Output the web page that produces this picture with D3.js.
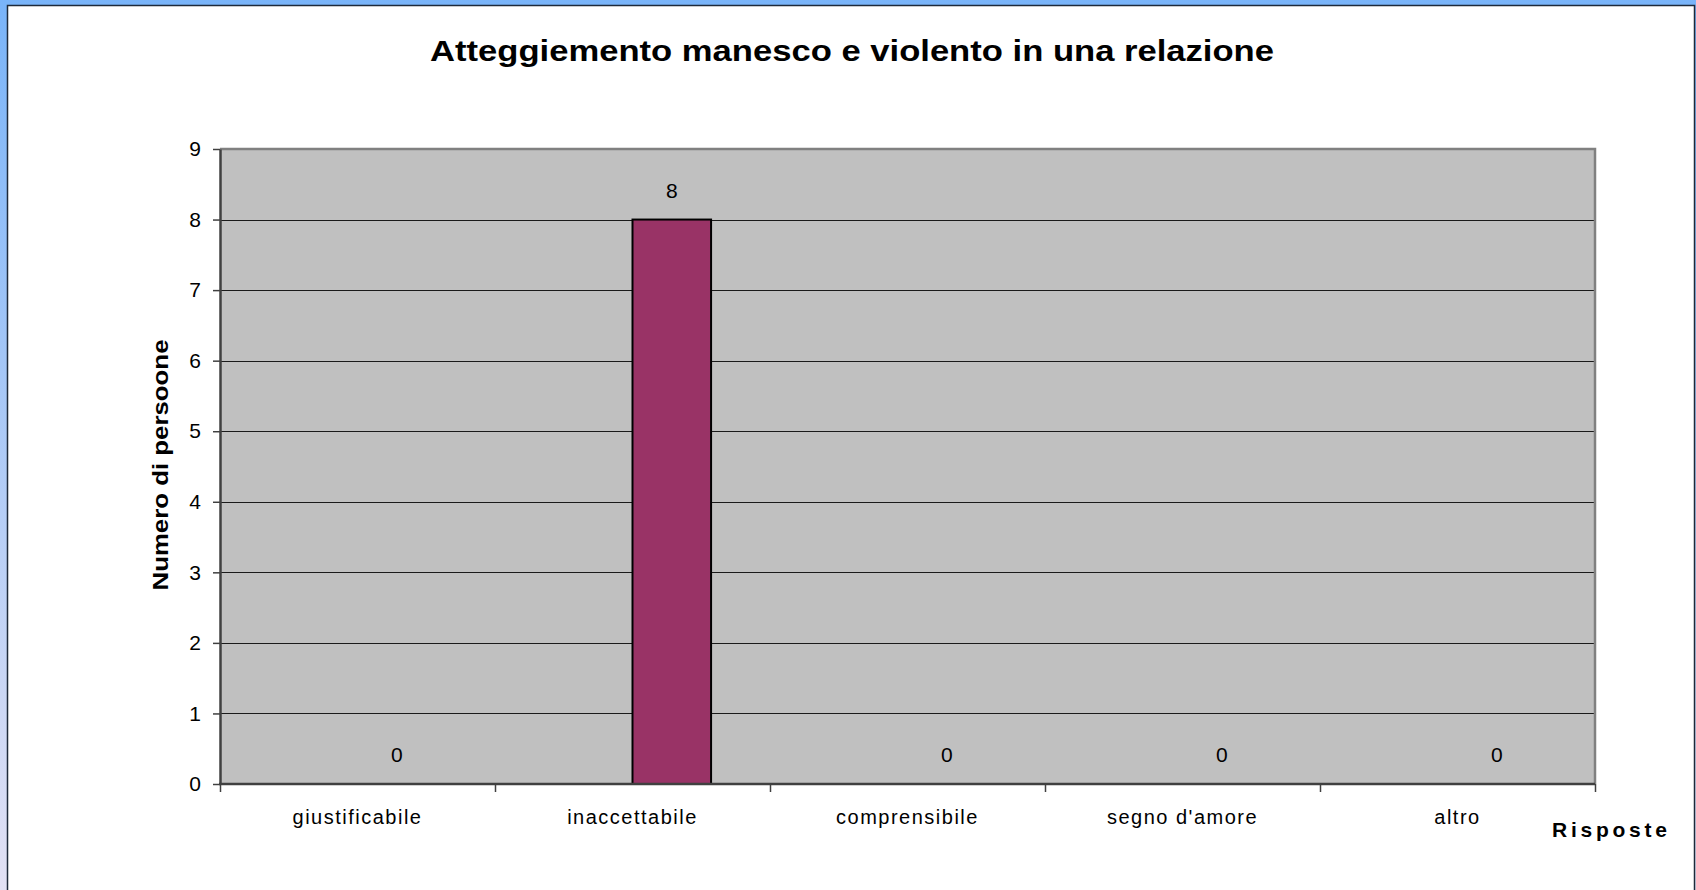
<!DOCTYPE html>
<html>
<head>
    <meta charset="UTF-8">
    <script src="https://cdn.jsdelivr.net/npm/d3@7"></script>
    <style>
        body { margin: 0; background: #fff; }
        svg { display: block; font-family: "Liberation Sans", Arial, sans-serif; }
    </style>
</head>
<body>
<svg id="chart" width="1696" height="890"></svg>

<script>

// dati del grafico
let categories = ["giustificabile", "inaccettabile", "comprensibile", "segno d'amore", "altro"];
let series = ["Serie1", "Serie2"];          // la prima serie è vuota, la seconda ha i valori
let values_s1 = [null, null, null, null, null];
let values_s2 = [0, 8, 0, 0, 0];
let y_ticks = [0, 1, 2, 3, 4, 5, 6, 7, 8, 9];

let title = "Atteggiemento manesco e violento in una relazione";
let y_title = "Numero di persoone";
let x_title = "Risposte";

let svg = d3.select("#chart");

// cornice della finestra
let defs = svg.append("defs");
let grad = defs.append("linearGradient").attr("id", "frame_grad")
    .attr("x1", 0).attr("y1", 0).attr("x2", 0).attr("y2", 1);
grad.append("stop").attr("offset", 0).attr("stop-color", "#79b4f9");
grad.append("stop").attr("offset", 1).attr("stop-color", "#e2e1f4");
svg.append("rect").attr("x", 0).attr("y", 0).attr("width", 1696).attr("height", 890)
    .attr("fill", "url(#frame_grad)");
svg.append("rect").attr("x", 7.5).attr("y", 5.5).attr("width", 1687).attr("height", 890)
    .attr("fill", "#fff").attr("stroke", "#1e2a3a").attr("stroke-width", 1.5);

// area del grafico
let plot = { left: 220, top: 149, right: 1595, bottom: 784 };

let x = d3.scaleBand()
    .domain(categories)
    .range([plot.left, plot.right])
    .paddingInner(1.5 / 3.5)
    .paddingOuter(0.75 / 3.5);
let xs = d3.scaleBand().domain(series).range([0, x.bandwidth()]);
let y = d3.scaleLinear().domain([0, 9]).range([plot.bottom, plot.top]);

// centro della categoria e confini
let cat_center = c => x(c) - x.step() * x.paddingInner() / 2 + x.step() / 2;

svg.append("rect")
    .attr("x", plot.left).attr("y", plot.top)
    .attr("width", plot.right - plot.left).attr("height", plot.bottom - plot.top)
    .attr("fill", "#c0c0c0");

// griglia
svg.append("g").selectAll("line")
    .data(y_ticks.filter(d => d > 0 && d < 9))
    .join("line")
    .attr("x1", plot.left).attr("x2", plot.right)
    .attr("y1", d => Math.round(y(d)) + 0.5).attr("y2", d => Math.round(y(d)) + 0.5)
    .attr("stroke", "#1a1a1a").attr("stroke-width", 1);

// bordo superiore e destro
svg.append("path")
    .attr("d", `M${plot.left},${plot.top}H${plot.right}V${plot.bottom}`)
    .attr("fill", "none").attr("stroke", "#808080").attr("stroke-width", 2.5);

// barre
let bars = [];
categories.forEach((c, i) => {
    if (values_s1[i] != null) bars.push({ c, s: series[0], v: values_s1[i] });
    if (values_s2[i] != null) bars.push({ c, s: series[1], v: values_s2[i] });
});

svg.append("g").selectAll("rect")
    .data(bars.filter(d => d.v > 0))
    .join("rect")
    .attr("x", d => x(d.c) + xs(d.s))
    .attr("y", d => y(d.v))
    .attr("width", xs.bandwidth())
    .attr("height", d => y(0) - y(d.v))
    .attr("fill", "#993366")
    .attr("stroke", "#000").attr("stroke-width", 2);

// etichette dati
svg.append("g").selectAll("text")
    .data(bars)
    .join("text")
    .attr("x", d => x(d.c) + xs(d.s) + xs.bandwidth() / 2)
    .attr("y", d => y(d.v) - 22)
    .attr("text-anchor", "middle")
    .attr("font-size", 21)
    .attr("fill", "#000")
    .text(d => d.v);

// asse y
let yAxis = svg.append("g")
    .attr("transform", `translate(${plot.left},0)`)
    .call(d3.axisLeft(y).tickValues(y_ticks).tickSize(7).tickPadding(12).tickSizeOuter(0));
yAxis.select(".domain").attr("stroke", "#404040").attr("stroke-width", 2.5);
yAxis.selectAll(".tick line").attr("stroke", "#404040").attr("stroke-width", 1.5);
yAxis.selectAll("text").attr("font-size", 21).attr("fill", "#000")
    .attr("font-family", "Liberation Sans, Arial, sans-serif");

// asse x
let xTickPos = categories.map(c => x(c) - x.step() * x.paddingInner() / 2);
xTickPos.push(plot.right);
let xAxisG = svg.append("g");
xAxisG.append("line")
    .attr("x1", plot.left - 1).attr("x2", plot.right)
    .attr("y1", plot.bottom).attr("y2", plot.bottom)
    .attr("stroke", "#404040").attr("stroke-width", 2.5);
xAxisG.selectAll("line.tick")
    .data(xTickPos)
    .join("line").attr("class", "tick")
    .attr("x1", d => Math.round(d) + 0.5).attr("x2", d => Math.round(d) + 0.5)
    .attr("y1", plot.bottom).attr("y2", plot.bottom + 8)
    .attr("stroke", "#404040").attr("stroke-width", 1.5);
xAxisG.selectAll("text")
    .data(categories)
    .join("text")
    .attr("x", d => cat_center(d))
    .attr("y", 824)
    .attr("text-anchor", "middle")
    .attr("font-size", 20)
    .attr("letter-spacing", 1.5)
    .attr("fill", "#000")
    .text(d => d);

// titoli
svg.append("text")
    .attr("x", 852).attr("y", 61)
    .attr("text-anchor", "middle")
    .attr("font-size", 30).attr("font-weight", "bold")
    .attr("textLength", 844).attr("lengthAdjust", "spacingAndGlyphs")
    .text(title);

svg.append("text")
    .attr("transform", "translate(168,465) rotate(-90)")
    .attr("text-anchor", "middle")
    .attr("font-size", 22).attr("font-weight", "bold")
    .attr("textLength", 251).attr("lengthAdjust", "spacingAndGlyphs")
    .text(y_title);

svg.append("text")
    .attr("x", 1552).attr("y", 837)
    .attr("font-size", 21).attr("font-weight", "bold")
    .attr("textLength", 115).attr("lengthAdjust", "spacing")
    .text(x_title);

</script>
</body>
</html>
